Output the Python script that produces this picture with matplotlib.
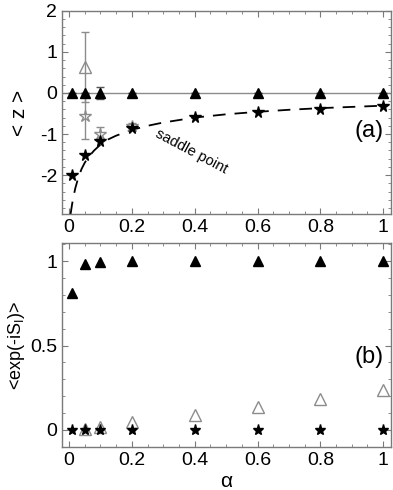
import matplotlib
matplotlib.use("Agg")
import matplotlib.pyplot as plt
from matplotlib.ticker import MultipleLocator
import numpy as np

plt.rcParams['font.family'] = ['Liberation Sans', 'DejaVu Sans']
plt.rcParams['axes.unicode_minus'] = False

# panel (a): <z> versus alpha
alpha = [0.01, 0.05, 0.1, 0.2, 0.4, 0.6, 0.8, 1.0]
z_tri = [0, 0, 0, 0, 0, 0, 0, 0]
z_tri_err = [0, 0, 0.14, 0, 0, 0, 0, 0]
z_star = [-2.0, -1.5, -1.17, -0.85, -0.58, -0.47, -0.39, -0.33]

# gray (open) results
g_tri_x = [0.05]
g_tri_z = [0.64]
g_tri_err = [0.85]
g_star_x = [0.05, 0.1, 0.2]
g_star_z = [-0.55, -0.99, -0.8]
g_star_err = [0.56, 0.16, 0.07]

# saddle point curve
sp_x = [0.005, 0.01, 0.015, 0.02, 0.03, 0.04, 0.05, 0.06, 0.08, 0.1, 0.125,
        0.15, 0.2, 0.25, 0.3, 0.4, 0.5, 0.6, 0.7, 0.8, 0.9, 1.0]
sp_z = [-2.95, -2.7, -2.5, -2.32, -2.05, -1.85, -1.7, -1.58, -1.4, -1.26, -1.13,
        -1.04, -0.9, -0.8, -0.72, -0.6, -0.52, -0.46, -0.41, -0.37, -0.34, -0.31]

# panel (b): <exp(-iS_I)> versus alpha
e_tri = [0.81, 0.982, 0.992, 1.0, 1.0, 1.0, 1.0, 1.0]
e_star = [0, 0, 0, 0, 0, 0, 0, 0]
g_e_x = [0.05, 0.1, 0.2, 0.4, 0.6, 0.8, 1.0]
g_e = [0.005, 0.02, 0.045, 0.089, 0.138, 0.183, 0.235]

gray = '#8c8c8c'
spine_col = '#7a7a7a'

fig = plt.figure(figsize=(3.93, 4.90), dpi=100)
ax1 = fig.add_axes([0.158, 0.563, 0.837, 0.415])
ax2 = fig.add_axes([0.158, 0.088, 0.837, 0.416])


def style(ax):
    for s in ax.spines.values():
        s.set_color(spine_col)
        s.set_linewidth(1.0)
    ax.tick_params(which='both', direction='in', top=True, right=True,
                   color=spine_col, labelsize=14)
    ax.tick_params(which='major', length=4, width=0.8)
    ax.tick_params(which='minor', length=2.5, width=0.6)
    ax.xaxis.set_minor_locator(MultipleLocator(0.05))
    ax.set_xlim(-0.022, 1.025)
    ax.set_xticks([0, 0.2, 0.4, 0.6, 0.8, 1.0])
    ax.set_xticklabels(['0', '0.2', '0.4', '0.6', '0.8', '1'])


# ---- top panel
ax1.axhline(0, color=gray, lw=1.0, zorder=1)
ax1.plot(sp_x, sp_z, color='black', lw=1.3, dashes=(7, 5), zorder=2)
ax1.errorbar(g_tri_x, g_tri_z, yerr=g_tri_err, fmt='^', mfc='none', mec=gray,
             ecolor=gray, ms=8, capsize=3, elinewidth=1.0, zorder=3)
ax1.errorbar(g_star_x, g_star_z, yerr=g_star_err, fmt='*', mfc='none', mec=gray,
             ecolor=gray, ms=9, capsize=3, elinewidth=1.0, zorder=3)
ax1.errorbar(alpha, z_tri, yerr=z_tri_err, fmt='^', color='black', ecolor='#555555',
             ms=7, capsize=3, elinewidth=1.0, zorder=4)
ax1.plot(alpha, z_star, '*', color='black', ms=8.5, zorder=5)
ax1.text(0.39, -1.42, 'saddle point', rotation=-28, fontsize=10.5,
         ha='center', va='center')
ax1.text(1.0, -0.92, '(a)', fontsize=17, ha='right', va='center')
style(ax1)
ax1.set_ylim(-2.95, 2.0)
ax1.yaxis.set_major_locator(MultipleLocator(1))
ax1.yaxis.set_minor_locator(MultipleLocator(0.2))
ax1.set_ylabel('< z >', fontsize=15, labelpad=8)

# ---- bottom panel
ax2.plot(g_e_x, g_e, '^', mfc='none', mec=gray, ms=8, zorder=2)
ax2.plot(alpha, e_tri, '^', color='black', ms=7, zorder=3)
ax2.plot(alpha, e_star, '*', color='black', ms=8, zorder=4)
ax2.text(1.0, 0.43, '(b)', fontsize=17, ha='right', va='center')
style(ax2)
ax2.set_ylim(-0.1, 1.107)
ax2.set_yticks([0, 0.5, 1])
ax2.set_yticklabels(['0', '0.5', '1'])
ax2.yaxis.set_minor_locator(MultipleLocator(0.1))
ax2.set_ylabel(r'<exp(-iS$_\mathregular{I}$)>', fontsize=13, labelpad=2)
ax2.set_xlabel('α', fontsize=15, labelpad=2)

fig.savefig('out.png', dpi=100)
